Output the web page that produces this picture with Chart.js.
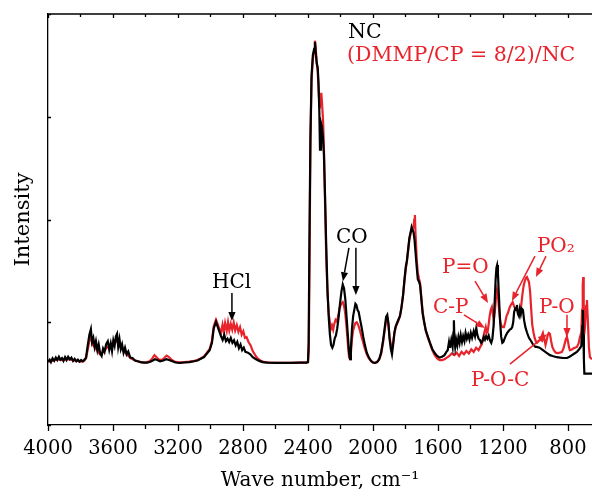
<!DOCTYPE html>
<html><head><meta charset="utf-8">
<script src="https://cdn.jsdelivr.net/npm/chart.js@4"></script>
<style>html,body{margin:0;padding:0;background:#fff}</style>
</head><body>
<canvas id="c" width="592" height="496"></canvas>
<script>
// ---- data (wave number cm-1, relative intensity) ----
const wnNC = [4000,3990,3982,3972,3962,3952,3943,3933,3924,3914,3905,3895,3886,3876,3866,3856,3846,3836,3826,3816,3806,3796,3786,3776,3766,3755,3745,3736,3729,3721,3713,3705,3696,3688,3679,3670,3661,3652,3642,3632,3623,3614,3606,3598,3590,3582,3575,3568,3560,3552,3544,3535,3526,3516,3506,3494,3480,3465,3448,3430,3410,3390,3370,3355,3342,3328,3310,3290,3272,3255,3235,3215,3190,3160,3130,3100,3080,3060,3040,3022,3005,2991,2980,2966,2955,2944,2935,2925,2915,2905,2895,2885,2875,2865,2855,2845,2835,2825,2815,2805,2795,2785,2770,2755,2740,2720,2700,2680,2650,2600,2550,2500,2450,2410,2400,2396,2391,2385,2378,2370,2362,2357,2352,2346,2340,2335,2330,2326,2320,2314,2308,2302,2295,2288,2280,2272,2265,2258,2250,2243,2236,2228,2220,2212,2203,2194,2186,2178,2170,2162,2154,2147,2141,2136,2129,2122,2115,2108,2102,2095,2088,2080,2070,2060,2050,2038,2025,2012,2000,1988,1975,1962,1950,1938,1928,1919,1912,1905,1898,1890,1883,1876,1868,1860,1850,1842,1834,1825,1815,1806,1798,1791,1783,1776,1769,1762,1756,1750,1744,1738,1731,1724,1716,1710,1702,1694,1685,1675,1662,1649,1635,1620,1605,1590,1575,1560,1548,1540,1532,1526,1518,1510,1505,1502,1499,1494,1488,1481,1474,1467,1460,1452,1445,1437,1430,1422,1414,1406,1398,1390,1380,1372,1364,1358,1350,1342,1334,1326,1318,1311,1304,1296,1288,1280,1272,1265,1258,1251,1245,1240,1236,1231,1225,1218,1211,1204,1198,1190,1182,1174,1166,1158,1150,1143,1137,1131,1125,1119,1114,1108,1102,1096,1090,1084,1077,1070,1062,1052,1040,1028,1015,1000,991,975,954,929,911,895,868,849,830,806,790,775,760,745,730,718,712,708,705,702,699,680,652];
const intNC = [15.4,15.9,15.3,16.2,15.6,16.4,15.8,16.6,15.9,16.3,15.6,16.5,15.8,16.6,16.0,16.4,15.6,16.1,15.5,15.9,15.4,15.8,15.5,15.9,16.4,19.5,22.0,23.3,20.2,21.2,19.0,20.4,18.2,19.6,17.4,16.8,18.6,17.8,19.7,20.4,18.3,19.9,18.0,20.6,19.3,21.6,22.2,19.0,20.9,18.5,19.6,17.6,18.8,17.2,17.9,16.4,16.3,15.7,15.5,15.3,15.2,15.2,15.4,15.7,16.0,15.8,15.5,15.7,16.0,15.8,15.5,15.2,15.1,15.2,15.3,15.5,15.7,16.1,16.5,17.4,18.2,20.0,23.5,25.1,23.8,22.6,21.6,20.7,21.9,20.4,21.0,20.2,21.2,20.0,20.6,19.4,20.2,18.7,19.6,18.2,18.8,17.8,17.6,17.2,16.5,16.0,15.6,15.3,15.2,15.1,15.1,15.1,15.2,15.2,15.3,20,45,70,85,90,91.5,93.2,90.5,88.0,87.0,83.0,76.0,67.0,73.5,72.5,70.0,66.0,56.0,44.0,33.0,26.0,22.0,19.5,18.8,19.5,21.0,21.8,23.5,26.0,29.5,32.5,34.2,33.2,30.5,26.0,21.5,17.5,16.0,18.5,23.5,26.5,28.0,29.5,29.2,28.0,27.5,25.8,23.8,21.5,19.5,17.6,16.4,15.6,15.2,15.1,15.3,16.0,17.6,20.5,23.5,26.3,26.8,24.8,21.0,18.5,17.2,19.5,22.5,24.0,25.0,25.8,26.5,28.5,31.5,35.5,38.5,40.0,43.0,45.5,46.8,48.2,47.5,46.8,45.0,42.0,38.5,35.5,34.8,34.0,30.5,27.0,25.0,23.0,21.5,20.0,18.5,17.5,16.8,16.4,16.6,17.0,17.8,18.2,20.2,18.8,20.7,19.0,22.5,25.5,21.0,19.0,20.8,19.4,21.4,20.0,21.9,20.2,21.6,20.4,22.4,21.0,22.0,20.8,22.4,21.2,22.8,21.6,23.6,22.0,21.0,20.7,20.0,20.4,21.4,20.8,21.6,21.0,21.8,20.6,20.0,21.0,24.0,30.0,35.5,38.3,38.9,37.0,31.5,25.5,21.5,20.0,20.2,21.0,21.8,22.4,22.8,23.2,23.4,23.8,25.0,27.5,28.3,28.0,29.2,27.0,26.5,28.2,27.0,28.3,28.0,25.5,23.8,22.5,21.2,20.5,19.6,19.0,19.0,18.8,18.2,17.5,17.0,16.8,16.5,16.4,16.3,16.3,16.6,17.0,17.4,17.8,18.5,19.2,24.0,28.0,22.0,16.0,12.5,12.5,12.5];
const wnMix = [4000,3980,3960,3940,3920,3900,3880,3860,3840,3820,3800,3780,3766,3755,3745,3736,3725,3710,3695,3680,3665,3650,3635,3620,3605,3590,3578,3565,3550,3535,3520,3505,3490,3470,3450,3430,3400,3375,3358,3345,3335,3320,3300,3285,3270,3258,3240,3220,3190,3160,3130,3100,3080,3060,3040,3022,3005,2991,2980,2966,2955,2944,2935,2926,2918,2910,2900,2892,2884,2875,2866,2857,2848,2838,2828,2818,2808,2798,2788,2778,2766,2752,2740,2725,2710,2690,2670,2640,2600,2550,2500,2450,2410,2400,2395,2390,2385,2378,2370,2362,2357,2352,2346,2340,2334,2328,2322,2318,2313,2307,2301,2294,2287,2280,2272,2265,2258,2252,2245,2238,2230,2222,2214,2205,2195,2186,2178,2170,2162,2154,2147,2141,2136,2129,2122,2115,2108,2100,2094,2088,2080,2070,2060,2050,2038,2025,2012,2000,1988,1975,1962,1950,1938,1928,1919,1912,1905,1898,1890,1883,1876,1868,1860,1850,1842,1834,1825,1815,1806,1798,1791,1783,1776,1769,1762,1756,1750,1746,1742,1738,1731,1724,1716,1710,1702,1694,1685,1675,1662,1649,1635,1620,1605,1590,1575,1560,1545,1530,1515,1500,1485,1470,1455,1440,1425,1410,1395,1380,1365,1350,1340,1330,1322,1314,1306,1300,1294,1288,1282,1275,1268,1262,1256,1250,1243,1237,1231,1224,1216,1208,1200,1194,1186,1178,1169,1160,1150,1140,1132,1124,1114,1104,1095,1088,1081,1074,1066,1058,1052,1046,1040,1033,1026,1020,1012,1005,998,991,982,972,963,954,946,938,932,925,918,911,904,896,887,875,862,850,837,828,820,812,806,800,794,788,778,768,757,745,735,726,718,713,709,706,703,700,695,688,683,677,671,665,652];
const intMix = [15.4,15.6,15.8,16.0,15.8,15.9,16.0,15.9,15.7,15.6,15.4,15.5,16.2,18.5,20.5,21.5,19.5,18.8,18.0,17.2,17.6,18.2,19.0,18.8,19.3,19.8,20.6,19.6,18.7,18.0,17.4,16.8,16.2,15.8,15.5,15.3,15.2,15.5,16.2,17.0,16.6,16.0,15.8,16.3,16.9,16.6,15.9,15.4,15.2,15.3,15.4,15.6,15.8,16.2,16.7,17.6,18.5,20.5,24.0,25.6,24.5,23.2,22.6,24.4,22.6,24.8,22.9,25.0,23.0,24.6,23.2,24.9,23.0,24.3,22.7,23.8,22.0,22.8,21.2,21.4,20.2,19.3,18.0,17.0,16.2,15.6,15.3,15.2,15.1,15.1,15.1,15.2,15.2,15.3,18,42,68,84,89,91,93.5,91.5,88,86,81,77,79.5,80.8,78,74,66,52,40,32,27,25,23.5,24.2,23.2,24.6,25.6,25.2,26.5,28.5,29.5,29.9,29.0,27.0,23.5,19.5,16.5,16.0,17.5,21.0,23.0,24.0,24.8,25.0,24.6,24.0,23.0,21.4,20.0,18.6,17.2,16.2,15.5,15.2,15.1,15.3,15.9,17.2,20.0,23.0,25.6,26.0,24.5,21.5,19.5,18.5,20.0,22.3,23.8,24.8,25.5,26.5,28.5,31.5,35.0,38.0,39.8,42.5,45.0,46.5,47.5,47.8,48.2,50.0,51.1,46.5,40.5,37.0,35.5,34.5,31.0,27.5,25.2,23.0,21.2,19.8,18.2,17.0,16.2,15.8,15.8,16.0,16.4,16.8,17.4,17.0,17.6,16.8,17.8,17.2,18.0,17.4,18.4,17.8,18.8,18.2,19.0,19.6,21.2,22.6,23.8,22.4,22.8,24.5,26.5,28.0,28.7,27.0,25.5,27.5,31.0,32.8,31.5,28.0,25.0,24.0,23.8,23.8,25.0,26.5,27.3,28.5,29.3,29.9,29.0,28.2,28.0,27.0,26.8,29.0,31.5,33.6,35.0,35.8,36.0,36.0,34.8,32.5,28.0,24.5,22.5,21.2,20.4,20.0,20.4,20.7,21.5,22.4,21.0,19.5,20.5,21.8,22.4,22.2,20.5,19.0,18.2,17.6,17.5,17.6,17.8,18.6,19.8,21.0,21.4,20.4,19.0,18.2,18.3,18.6,18.8,19.0,19.8,21.4,22.5,28.0,34.0,36.0,30.0,22.0,24.0,29.0,30.4,25.0,19.0,16.5,16.0];
const seriesNames = ['NC', '(DMMP/CP = 8/2)/NC'];
const seriesColors = ['#000000', '#e8232c'];
const xMajorTicks = [4000, 3600, 3200, 2800, 2400, 2000, 1600, 1200, 800];
const xMinorTicks = [3800, 3400, 3000, 2600, 2200, 1800, 1400, 1000];
const yTicks = [0, 25, 50, 75, 100];

// annotations in data coordinates
const legendTexts = [
  {text: seriesNames[0], x: 2154, y: 94.2, color: seriesColors[0]},
  {text: seriesNames[1], x: 2160, y: 88.6, color: seriesColors[1]}
];
const peakLabels = [
  {text: 'HCl', x: 2991, y: 33.3, color: seriesColors[0]},
  {text: 'CO', x: 2228, y: 44.3, color: seriesColors[0]},
  {text: 'P=O', x: 1575, y: 37.0, color: seriesColors[1]},
  {text: 'C-P', x: 1631, y: 27.3, color: seriesColors[1]},
  {text: 'PO\u2082', x: 991, y: 42.1, color: seriesColors[1]},
  {text: 'P-O', x: 978, y: 27.3, color: seriesColors[1]},
  {text: 'P-O-C', x: 1397, y: 9.5, color: seriesColors[1]}
];
const arrows = [
  {x1: 2868, y1: 32.1, x2: 2868, y2: 25.3, color: seriesColors[0]},
  {x1: 2148, y1: 43.1, x2: 2185, y2: 35.0, color: seriesColors[0]},
  {x1: 2105, y1: 43.1, x2: 2105, y2: 31.6, color: seriesColors[0]},
  {x1: 1372, y1: 35.0, x2: 1292, y2: 29.7, color: seriesColors[1]},
  {x1: 1440, y1: 26.8, x2: 1311, y2: 23.6, color: seriesColors[1]},
  {x1: 1003, y1: 41.1, x2: 1145, y2: 30.2, color: seriesColors[1]},
  {x1: 935, y1: 41.1, x2: 997, y2: 36.0, color: seriesColors[1]},
  {x1: 806, y1: 26.8, x2: 806, y2: 21.4, color: seriesColors[1]},
  {x1: 1157, y1: 14.8, x2: 929, y2: 22.1, color: seriesColors[1]}
];

const FONT = "'DejaVu Serif', serif";

const framePlugin = {
  id: 'frame',
  afterDraw(chart) {
    const {ctx, chartArea: {left, right, top, bottom}, scales: {x, y}} = chart;
    ctx.save();
    ctx.strokeStyle = '#000';
    ctx.lineWidth = 1.3;
    ctx.beginPath();
    ctx.moveTo(left, top); ctx.lineTo(right, top);
    xMajorTicks.forEach(v => {
      const px = Math.round(x.getPixelForValue(v)) + 0.5;
      ctx.moveTo(px, bottom); ctx.lineTo(px, bottom + 6);
      ctx.moveTo(px, top); ctx.lineTo(px, top + 4);
    });
    xMinorTicks.forEach(v => {
      const px = Math.round(x.getPixelForValue(v)) + 0.5;
      ctx.moveTo(px, bottom); ctx.lineTo(px, bottom + 4);
      ctx.moveTo(px, top); ctx.lineTo(px, top + 3);
    });
    yTicks.forEach(v => {
      const py = Math.round(y.getPixelForValue(v)) + 0.5;
      ctx.moveTo(left, py); ctx.lineTo(left + 3, py);
    });
    ctx.stroke();

    ctx.textBaseline = 'alphabetic';
    ctx.textAlign = 'left';
    ctx.font = '20.5px ' + FONT;
    legendTexts.forEach(t => {
      ctx.fillStyle = t.color;
      ctx.fillText(t.text, x.getPixelForValue(t.x), y.getPixelForValue(t.y));
    });
    ctx.font = '20px ' + FONT;
    peakLabels.forEach(t => {
      ctx.fillStyle = t.color;
      ctx.fillText(t.text, x.getPixelForValue(t.x), y.getPixelForValue(t.y));
    });
    arrows.forEach(a => {
      const x1 = x.getPixelForValue(a.x1), y1 = y.getPixelForValue(a.y1);
      const x2 = x.getPixelForValue(a.x2), y2 = y.getPixelForValue(a.y2);
      const ang = Math.atan2(y2 - y1, x2 - x1);
      const hl = 9, hw = 3.6;
      const bx = x2 - hl * Math.cos(ang), by = y2 - hl * Math.sin(ang);
      ctx.strokeStyle = a.color; ctx.fillStyle = a.color; ctx.lineWidth = 1.5;
      ctx.beginPath(); ctx.moveTo(x1, y1); ctx.lineTo(bx, by); ctx.stroke();
      ctx.beginPath();
      ctx.moveTo(x2, y2);
      ctx.lineTo(bx + hw * Math.sin(ang), by - hw * Math.cos(ang));
      ctx.lineTo(bx - hw * Math.sin(ang), by + hw * Math.cos(ang));
      ctx.closePath(); ctx.fill();
    });
    ctx.restore();
  }
};

const toPoints = (xs, ys) => xs.map((v, i) => ({x: v, y: ys[i]}));

new Chart(document.getElementById('c'), {
  type: 'line',
  data: {
    datasets: [
      {label: seriesNames[0], data: toPoints(wnNC, intNC), borderColor: seriesColors[0], borderWidth: 2.2, pointRadius: 0, tension: 0, fill: false},
      {label: seriesNames[1], data: toPoints(wnMix, intMix), borderColor: seriesColors[1], borderWidth: 2.2, pointRadius: 0, tension: 0, fill: false}
    ]
  },
  options: {
    responsive: false,
    animation: false,
    devicePixelRatio: 1,
    layout: {padding: {top: 14, left: 0, right: 0, bottom: 0}},
    plugins: {legend: {display: false}, tooltip: {enabled: false}},
    scales: {
      x: {
        type: 'linear', reverse: true, min: 652, max: 4000,
        afterBuildTicks: s => { s.ticks = xMajorTicks.map(v => ({value: v})); },
        afterFit: s => { s.height = 71; s.paddingLeft = 0; s.paddingRight = 0; },
        ticks: {color: '#000', font: {family: FONT, size: 19.5}, padding: 12, autoSkip: false, maxRotation: 0, callback: v => String(v)},
        grid: {display: true, drawOnChartArea: false, drawTicks: false},
        border: {display: true, color: '#000', width: 1.3},
        title: {display: true, text: 'Wave number, cm\u207B\u00B9', color: '#000', font: {family: FONT, size: 20}, padding: {top: 0, bottom: 3}}
      },
      y: {
        min: 0, max: 100,
        afterFit: s => { s.width = 48; },
        ticks: {display: false},
        grid: {display: true, drawOnChartArea: false, drawTicks: false},
        border: {display: true, color: '#000', width: 1.3},
        title: {display: true, text: 'Intensity', color: '#000', font: {family: FONT, size: 21}, padding: {top: 11, bottom: 0}}
      }
    }
  },
  plugins: [framePlugin]
});
</script>
</body></html>
